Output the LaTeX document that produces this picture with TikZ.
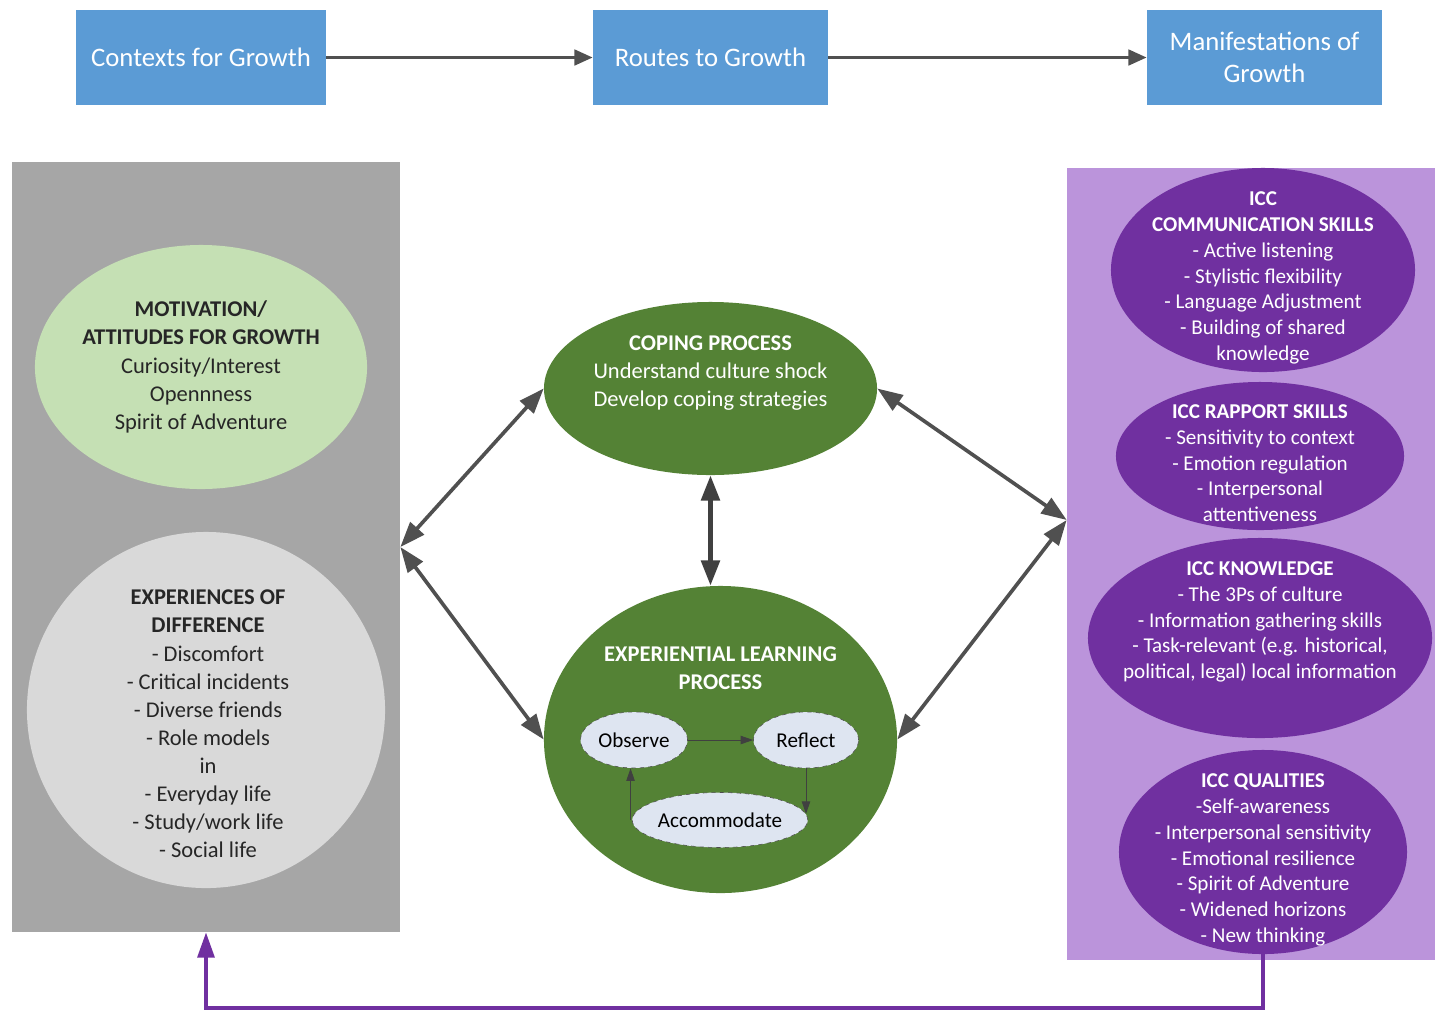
\documentclass[tikz,border=0pt]{standalone}
\usepackage{fontspec}
\setmainfont{Carlito}
\usetikzlibrary{shapes.geometric,arrows.meta}

\definecolor{boxblue}{HTML}{5B9BD5}
\definecolor{panelgrey}{HTML}{A6A6A6}
\definecolor{panelpurple}{HTML}{BB94DB}
\definecolor{softgreen}{HTML}{C5E0B4}
\definecolor{softgrey}{HTML}{D9D9D9}
\definecolor{deepgreen}{HTML}{548235}
\definecolor{deeppurple}{HTML}{7030A0}
\definecolor{paleblue}{HTML}{DEE5F1}
\definecolor{arrowgrey}{HTML}{505050}

\tikzset{
	topbox/.style={fill=boxblue, text=white, minimum height=2.375cm, align=center, inner sep=0pt, font=\fontsize{19}{22.7}\selectfont},
	blob/.style={ellipse, inner sep=0pt},
	txt/.style={align=center, inner sep=0pt, font=\fontsize{16}{20}\selectfont},
	icctxt/.style={align=center, inner sep=0pt, text=white, font=\fontsize{15}{18.4}\selectfont},
	stage/.style={ellipse, inner sep=0pt, fill=paleblue, draw=black!70, dashed, thin, font=\fontsize{15}{18}\selectfont},
	toparrow/.style={draw=arrowgrey, line width=2.4pt, -{Triangle[length=13pt,width=11pt]}},
	link/.style={draw=arrowgrey, line width=2.6pt, {Triangle[length=18pt,width=13pt]}-{Triangle[length=18pt,width=13pt]}},
	cycle/.style={draw=black!75, line width=0.7pt, -{Triangle[length=9pt,width=6pt]}},
	feedback/.style={draw=deeppurple, line width=2.6pt, -{Triangle[length=18pt,width=12pt]}}
}

\begin{document}
\begin{tikzpicture}[x=0.025cm,y=-0.025cm]
	\useasboundingbox (0,0) rectangle (1435,1009);
	
	% header row
	\node[topbox, minimum width=6.25cm] (contexts) at (201,57.5) {Contexts for Growth};
	\node[topbox, minimum width=5.875cm] (routes) at (710.5,57.5) {Routes to Growth};
	\node[topbox, minimum width=5.875cm] (manif) at (1264.5,57.5) {Manifestations of\\Growth};
	\draw[toparrow] (contexts) -- (routes);
	\draw[toparrow] (routes) -- (manif);
	
	% side panels
	\node[fill=panelgrey, inner sep=0pt, minimum width=9.7cm, minimum height=19.25cm] (ctxpanel) at (206,547) {};
	\node[fill=panelpurple, inner sep=0pt, minimum width=9.2cm, minimum height=19.8cm] (manpanel) at (1251,564) {};
	\coordinate (manin) at ([yshift=1.1cm]manpanel.west);
	
	% contexts
	\node[blob, fill=softgreen, minimum width=8.3cm, minimum height=6.1cm] (motiv) at (201,367) {};
	\node[txt, text=black!85] (motivtxt) at (motiv) {\textbf{MOTIVATION/}\\\textbf{ATTITUDES FOR GROWTH}\\Curiosity/Interest\\Opennness\\Spirit of Adventure};
	\node[blob, fill=softgrey, minimum width=8.95cm, minimum height=8.9cm] (exper) at (206,710) {};
	\node[txt, text=black!85, yshift=-0.35cm] (expertxt) at (208,710) {\textbf{EXPERIENCES OF}\\\textbf{DIFFERENCE}\\- Discomfort\\- Critical incidents\\- Diverse friends\\- Role models\\in\\- Everyday life\\- Study/work life\\- Social life};
	
	% routes
	\node[blob, fill=deepgreen, minimum width=8.325cm, minimum height=4.325cm] (cope) at (710.5,388.5) {};
	\node[txt, text=white, yshift=0.39cm] (copetxt) at (cope) {\textbf{COPING PROCESS}\\Understand culture shock\\Develop coping strategies};
	\node[blob, fill=deepgreen, minimum width=8.825cm, minimum height=7.675cm] (learn) at (720.5,739.5) {};
	\node[txt, text=white, yshift=1.79cm] (learntxt) at (learn) {\textbf{EXPERIENTIAL LEARNING}\\\textbf{PROCESS}};
	\node[stage, minimum width=2.675cm, minimum height=1.4cm] (observe) at (634,740) {Observe};
	\node[stage, minimum width=2.625cm, minimum height=1.4cm] (reflect) at (806,740) {Reflect};
	\node[stage, minimum width=4.15cm, minimum height=1.375cm] (accom) at (720,820) {Accommodate};
	\draw[cycle] (observe) -- (reflect);
	\draw[cycle] (reflect.south) -- ([yshift=0.15cm]reflect.south |- accom.east);
	\draw[cycle] ([xshift=-1pt]accom.west) -- ([xshift=-1pt]accom.west |- observe.south);
	
	% manifestations
	\node[blob, fill=deeppurple, minimum width=7.6cm, minimum height=5.1cm] (comm) at (1263,270) {};
	\node[icctxt, yshift=-0.2cm] (commtxt) at (comm) {\textbf{ICC}\\\textbf{COMMUNICATION SKILLS}\\- Active listening\\- Stylistic flexibility\\- Language Adjustment\\- Building of shared\\knowledge};
	\node[blob, fill=deeppurple, minimum width=7.2cm, minimum height=3.7cm] (rapport) at (1260,456) {};
	\node[icctxt, yshift=-0.18cm] (rapporttxt) at (rapport) {\textbf{ICC RAPPORT SKILLS}\\- Sensitivity to context\\- Emotion regulation\\- Interpersonal\\attentiveness};
	\node[blob, fill=deeppurple, minimum width=8.6cm, minimum height=5cm] (know) at (1260,638) {};
	\node[icctxt, yshift=0.4cm] (knowtxt) at (know) {\textbf{ICC KNOWLEDGE}\\- The 3Ps of culture\\- Information gathering skills\\- Task-relevant (e.g. historical,\\political, legal) local information};
	\node[blob, fill=deeppurple, minimum width=7.2cm, minimum height=5.1cm] (qual) at (1263,852) {};
	\node[icctxt, yshift=-0.2cm] (qualtxt) at (qual) {\textbf{ICC QUALITIES}\\-Self-awareness\\- Interpersonal sensitivity\\- Emotional resilience\\- Spirit of Adventure\\- Widened horizons\\- New thinking};
	
	% links between stages
	\draw[link] (cope.west) -- (ctxpanel.east);
	\draw[link] (ctxpanel.east) -- (learn.west);
	\draw[link, draw=black!75, line width=3.4pt] (cope.south) -- (cope.south |- learn.north);
	\draw[link] (cope.east) -- (manin);
	\draw[link] (manin) -- (learn.east);
	
	\draw[feedback] (qual.south) -- ++(0,54) -| (ctxpanel.south);
\end{tikzpicture}
\end{document}
